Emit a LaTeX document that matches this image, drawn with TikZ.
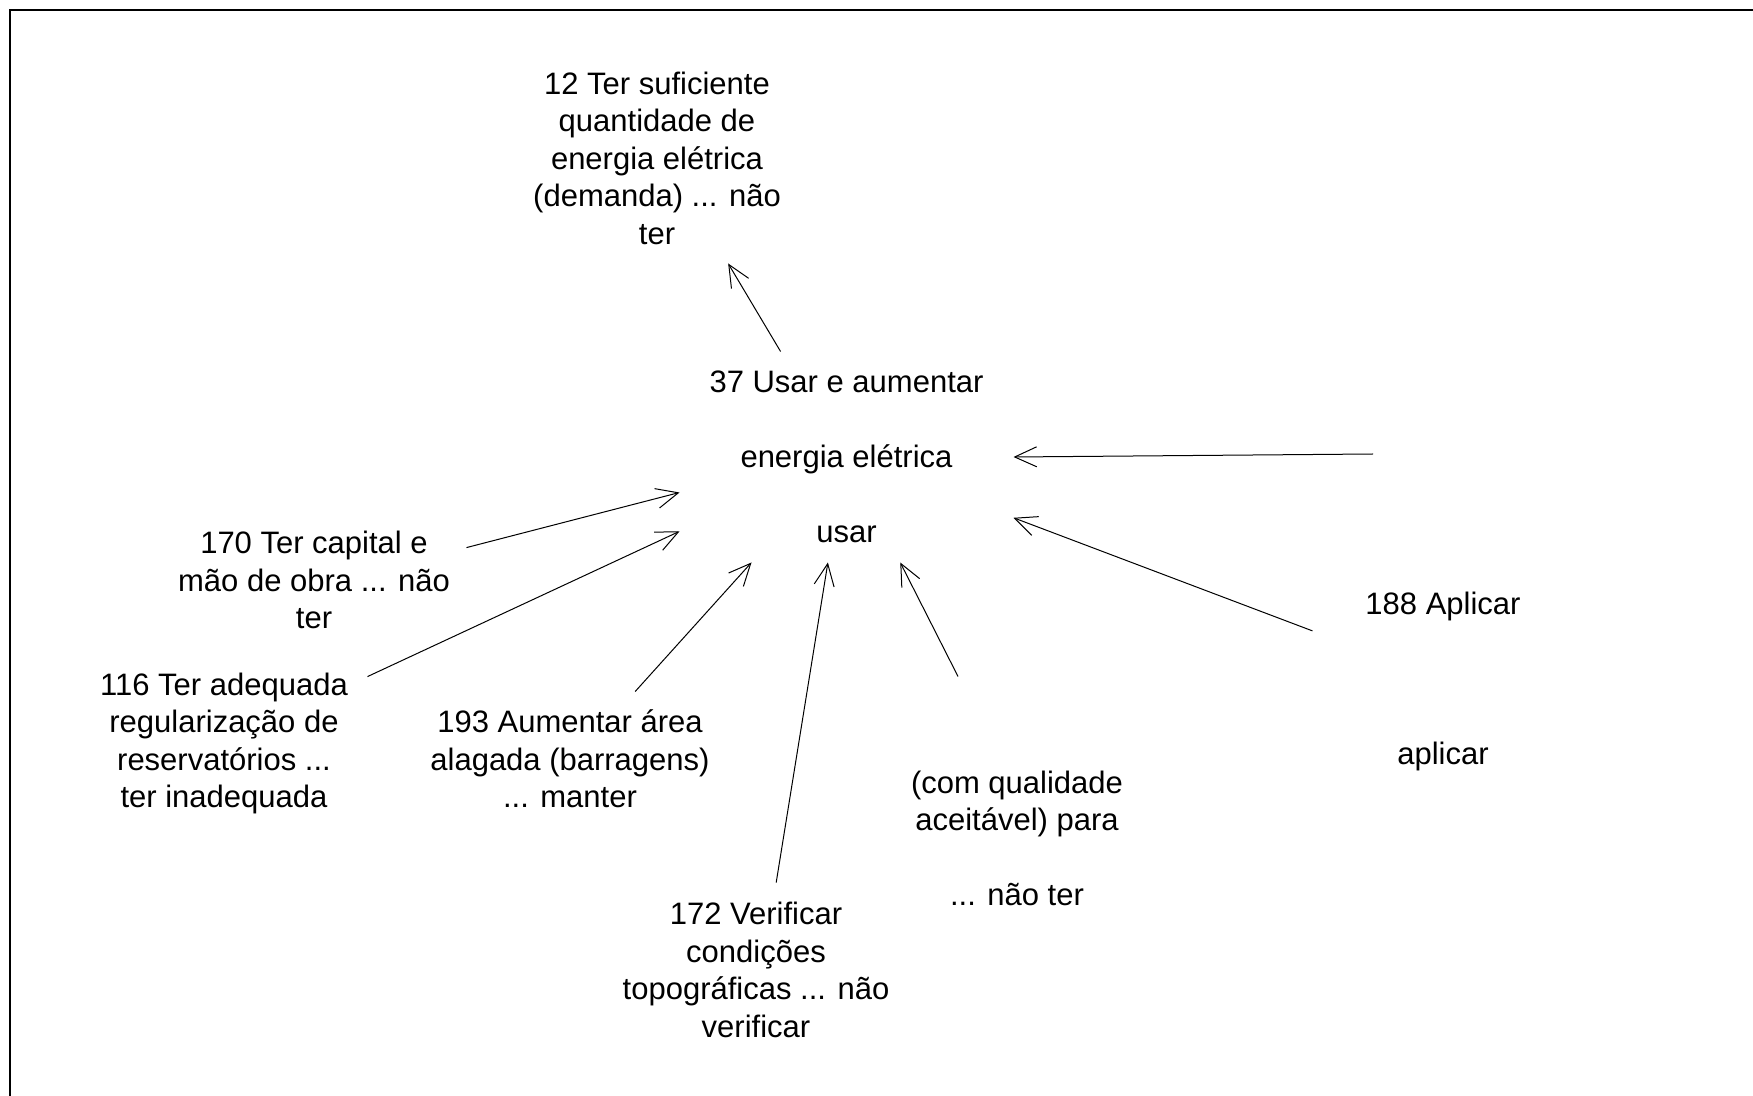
\documentclass[tikz,border=0pt]{standalone}
\usepackage{fontspec}
\setmainfont{Liberation Sans}
\usetikzlibrary{arrows.meta}

\begin{document}
\begin{tikzpicture}[x=0.5pt, y=-0.5pt, line width=0.5pt,
    lbl/.style={align=center, inner sep=0pt, font=\fontsize{15.5}{18.75}\selectfont},
    arr/.style={-{Straight Barb[length=11pt, width=10pt]}, line width=0.5pt}]
  \useasboundingbox (0,0) rectangle (1753,1096);
  \draw[line width=1pt] (10,1096) -- (10,10) -- (1753,10);
  % centre
  \node[lbl, minimum width=166.5pt, minimum height=105pt] (usar) at (846.5,457)
    {37 Usar e aumentar\\[18.75pt]energia elétrica\\[18.75pt]usar};
  \node[lbl, minimum width=166.5pt, minimum height=105pt] (dem) at (657,158)
    {12 Ter suficiente\\quantidade de\\energia elétrica\\(demanda) ... não\\ter};
  \node[lbl, minimum width=152pt, minimum height=60pt] (cap) at (314,580)
    {170 Ter capital e\\mão de obra ... não\\ter};
  \node[lbl, minimum width=143pt, minimum height=75pt] (reg) at (224,743.5)
    {116 Ter adequada\\regularização de\\reservatórios ...\\ter inadequada};
  \node[lbl, minimum height=67pt] (barr) at (570,759)
    {193 Aumentar área\\alagada (barragens)\\... manter};
  \node[lbl, minimum height=87pt] (topo) at (756,970)
    {172 Verificar\\condições\\topográficas ... não\\verificar};
  \node[lbl, minimum height=161.5pt] (qual) at (1017,838.5)
    {(com qualidade\\aceitável) para\\[18.75pt]... não ter};
  \node[lbl, minimum width=130pt] (apl) at (1443,681)
    {188 Aplicar\\[56.25pt]aplicar};
  \coordinate (ext) at (1373,454);
  % ligacoes
  \draw[arr] (usar.122) -- (dem.-56.3);
  \draw[arr] (ext) -- (usar.east);
  \draw[arr] (apl.159) -- (usar.-20);
  \draw[arr] (qual.110.1) -- (usar.-63);
  \draw[arr] (topo.77.7) -- (usar.-100);
  \draw[arr] (barr.46.8) -- (usar.-132);
  \draw[arr] (reg.25.3) -- (usar.204.8);
  \draw[arr] (cap.12.6) -- (usar.192.5);
\end{tikzpicture}
\end{document}
